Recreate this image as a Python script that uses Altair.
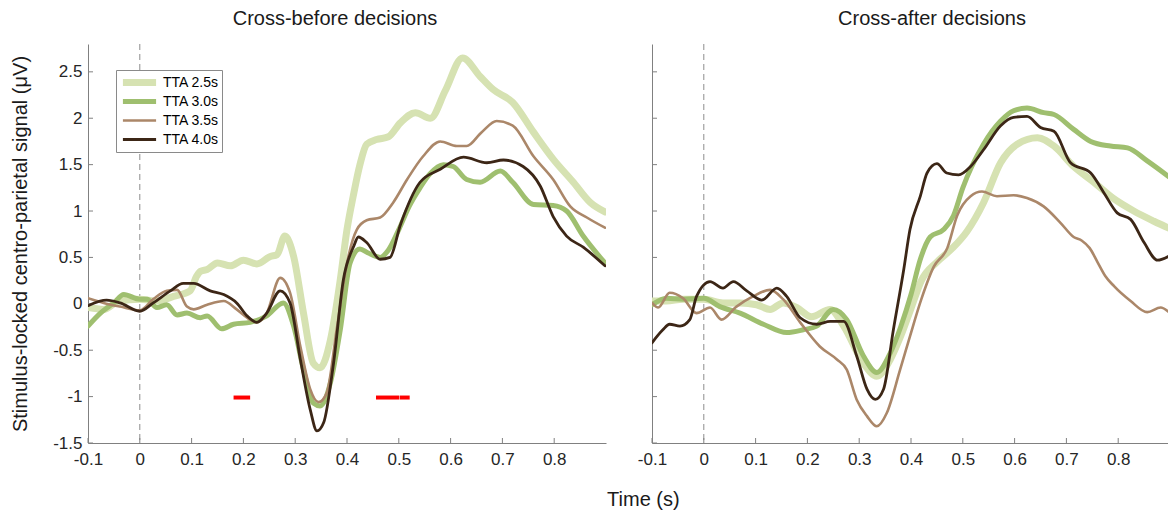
import altair as alt
import pandas as pd

FONT = "Liberation Sans"
SERIES = ["TTA 2.5s", "TTA 3.0s", "TTA 3.5s", "TTA 4.0s"]
COLORS = ["#d6e2b2", "#9fbf6f", "#ab8769", "#3c2616"]
WIDTHS = [7, 5, 2.6, 2.8]

X_TICKS = [-0.1, 0.0, 0.1, 0.2, 0.3, 0.4, 0.5, 0.6, 0.7, 0.8]
Y_TICKS = [-1.5, -1.0, -0.5, 0.0, 0.5, 1.0, 1.5, 2.0, 2.5]

# ---- Cross-before decisions ----
L25_T = [-0.1, -0.07, -0.04, 0.0, 0.033, 0.065, 0.097, 0.11, 0.117, 0.13, 0.15, 0.175, 0.2, 0.226, 0.252, 0.265, 0.28, 0.297, 0.316, 0.335, 0.348, 0.368, 0.387, 0.4, 0.412, 0.425, 0.438, 0.457, 0.48, 0.503, 0.532, 0.561, 0.59, 0.623, 0.657, 0.682, 0.72, 0.76, 0.798, 0.837, 0.87, 0.898]
L25_V = [-0.04, -0.06, 0.03, 0.05, 0.03, 0.08, 0.14, 0.3, 0.35, 0.37, 0.44, 0.41, 0.47, 0.43, 0.51, 0.53, 0.73, 0.51, -0.1, -0.64, -0.69, -0.39, 0.26, 0.8, 1.16, 1.5, 1.72, 1.77, 1.8, 1.95, 2.06, 2.0, 2.3, 2.65, 2.45, 2.31, 2.17, 1.85, 1.56, 1.31, 1.09, 0.99]

L30_T = [-0.1, -0.076, -0.05, -0.031, 0.0, 0.014, 0.033, 0.052, 0.072, 0.091, 0.117, 0.13, 0.158, 0.181, 0.213, 0.245, 0.277, 0.297, 0.316, 0.335, 0.348, 0.368, 0.387, 0.406, 0.425, 0.44, 0.464, 0.48, 0.5, 0.52, 0.541, 0.56, 0.586, 0.605, 0.631, 0.657, 0.696, 0.72, 0.76, 0.798, 0.824, 0.856, 0.898]
L30_V = [-0.24, -0.10, 0.01, 0.10, 0.05, 0.05, -0.04, -0.01, -0.12, -0.10, -0.15, -0.13, -0.27, -0.22, -0.20, -0.13, 0.01, -0.24, -0.71, -1.07, -1.10, -0.85, -0.28, 0.44, 0.59, 0.55, 0.50, 0.58, 0.8, 1.05, 1.25, 1.4, 1.50, 1.48, 1.34, 1.31, 1.43, 1.31, 1.07, 1.06, 1.0, 0.73, 0.44]

L35_T = [-0.1, -0.07, -0.038, 0.0, 0.026, 0.052, 0.072, 0.091, 0.104, 0.13, 0.162, 0.187, 0.213, 0.226, 0.245, 0.271, 0.29, 0.31, 0.329, 0.345, 0.361, 0.38, 0.4, 0.419, 0.438, 0.464, 0.489, 0.516, 0.547, 0.58, 0.612, 0.631, 0.66, 0.689, 0.72, 0.76, 0.798, 0.831, 0.863, 0.898]
L35_V = [0.06, 0.01, -0.03, -0.07, 0.05, 0.14, 0.15, -0.03, -0.06, -0.01, 0.03, -0.06, -0.17, -0.20, -0.10, 0.28, 0.12, -0.46, -0.92, -1.06, -0.96, -0.28, 0.44, 0.80, 0.90, 0.93, 1.09, 1.34, 1.59, 1.75, 1.70, 1.70, 1.85, 1.97, 1.92, 1.59, 1.34, 1.05, 0.93, 0.82]

L40_T = [-0.1, -0.064, -0.038, 0.0, 0.026, 0.059, 0.084, 0.104, 0.136, 0.162, 0.187, 0.207, 0.226, 0.245, 0.271, 0.29, 0.31, 0.329, 0.342, 0.355, 0.374, 0.393, 0.413, 0.422, 0.438, 0.464, 0.483, 0.503, 0.541, 0.58, 0.625, 0.67, 0.702, 0.74, 0.773, 0.798, 0.824, 0.856, 0.898]
L40_V = [-0.02, 0.04, 0.01, -0.08, 0.01, 0.14, 0.22, 0.22, 0.14, 0.10, 0.01, -0.13, -0.20, -0.10, 0.14, 0.01, -0.60, -1.14, -1.37, -1.28, -0.64, 0.26, 0.62, 0.72, 0.66, 0.48, 0.50, 0.85, 1.31, 1.45, 1.58, 1.52, 1.55, 1.48, 1.27, 0.94, 0.73, 0.61, 0.41]

# significance bars (left panel)
SIG_START = [0.181, 0.456, 0.5015]
SIG_END = [0.213, 0.5005, 0.521]
SIG_LEVEL = [-1.01, -1.01, -1.01]

# ---- Cross-after decisions ----
R25_T = [-0.1, -0.072, -0.04, 0.0, 0.037, 0.07, 0.102, 0.128, 0.153, 0.179, 0.208, 0.244, 0.27, 0.308, 0.334, 0.36, 0.38, 0.4, 0.42, 0.45, 0.48, 0.508, 0.54, 0.573, 0.605, 0.644, 0.676, 0.714, 0.753, 0.792, 0.83, 0.869, 0.9]
R25_V = [0.03, 0.03, 0.05, 0.05, 0.01, 0.01, -0.01, -0.06, 0.01, -0.04, -0.14, -0.06, -0.24, -0.64, -0.78, -0.60, -0.35, -0.05, 0.25, 0.45, 0.6, 0.78, 1.09, 1.52, 1.72, 1.79, 1.70, 1.48, 1.31, 1.13, 1.0, 0.89, 0.81]

R30_T = [-0.1, -0.072, -0.04, 0.0, 0.031, 0.07, 0.115, 0.16, 0.192, 0.218, 0.25, 0.276, 0.308, 0.334, 0.36, 0.38, 0.4, 0.418, 0.437, 0.463, 0.482, 0.5, 0.54, 0.573, 0.598, 0.624, 0.656, 0.676, 0.714, 0.747, 0.785, 0.818, 0.856, 0.9]
R30_V = [-0.01, 0.06, 0.05, 0.06, -0.03, -0.10, -0.22, -0.31, -0.28, -0.24, -0.06, -0.17, -0.56, -0.74, -0.53, -0.25, 0.1, 0.48, 0.72, 0.80, 0.95, 1.25, 1.72, 1.97, 2.08, 2.11, 2.06, 2.04, 1.88, 1.75, 1.70, 1.68, 1.54, 1.36]

R35_T = [-0.1, -0.088, -0.066, -0.04, -0.014, 0.012, 0.034, 0.063, 0.095, 0.128, 0.153, 0.186, 0.224, 0.257, 0.276, 0.295, 0.315, 0.334, 0.353, 0.379, 0.398, 0.42, 0.444, 0.47, 0.489, 0.515, 0.537, 0.566, 0.598, 0.624, 0.656, 0.689, 0.714, 0.73, 0.745, 0.76, 0.775, 0.792, 0.824, 0.856, 0.882, 0.9]
R35_V = [0.01, -0.04, 0.12, 0.06, -0.10, -0.04, -0.17, -0.03, 0.08, 0.15, 0.05, -0.20, -0.46, -0.60, -0.71, -1.03, -1.21, -1.32, -1.18, -0.71, -0.35, 0.05, 0.4, 0.6, 0.95, 1.16, 1.21, 1.16, 1.17, 1.14, 1.05, 0.87, 0.72, 0.68, 0.6, 0.45, 0.3, 0.19, 0.03, -0.09, -0.04, -0.1]

R40_T = [-0.1, -0.079, -0.066, -0.046, -0.027, -0.014, 0.012, 0.037, 0.057, 0.083, 0.112, 0.141, 0.16, 0.186, 0.218, 0.244, 0.27, 0.295, 0.315, 0.331, 0.347, 0.366, 0.386, 0.398, 0.418, 0.431, 0.45, 0.469, 0.492, 0.515, 0.54, 0.573, 0.598, 0.624, 0.65, 0.676, 0.708, 0.747, 0.772, 0.798, 0.824, 0.85, 0.876, 0.9]
R40_V = [-0.42, -0.28, -0.22, -0.24, -0.17, 0.08, 0.24, 0.17, 0.24, 0.14, 0.04, 0.17, 0.08, -0.15, -0.22, -0.19, -0.19, -0.56, -0.92, -1.03, -0.92, -0.28, 0.37, 0.8, 1.16, 1.41, 1.51, 1.41, 1.39, 1.48, 1.66, 1.92, 2.01, 2.02, 1.90, 1.86, 1.52, 1.41, 1.20, 0.98, 0.91, 0.66, 0.47, 0.52]

W_L, W_R, H = 518, 516, 399
X_MAX_L = 0.9
X_MAX_R = -0.1 + W_R / 518.0
Y_DOMAIN = [-1.5, 2.8]


def frame(series_lists):
    rows = []
    for name, (ts, vs) in zip(SERIES, series_lists):
        for t, v in zip(ts, vs, strict=True):
            rows.append({"series": name, "t": t, "v": v})
    return pd.DataFrame(rows)


left_df = frame([(L25_T, L25_V), (L30_T, L30_V), (L35_T, L35_V), (L40_T, L40_V)])
right_df = frame([(R25_T, R25_V), (R30_T, R30_V), (R35_T, R35_V), (R40_T, R40_V)])
sig_df = pd.DataFrame({"t0": SIG_START, "t1": SIG_END, "v": SIG_LEVEL})

X_LABEL = "datum.value < 0 ? '-' + format(-datum.value, '.1~f') : format(datum.value, '.1~f')"
Y_LABEL = "datum.value < 0 ? '-' + format(-datum.value, '~g') : format(datum.value, '~g')"

AX_COLOR = "#808080"
LBL_COLOR = "#262626"


def panel(df, title, dx, xmax, width, first):
    xs = alt.Scale(domain=[-0.1, xmax], nice=False, zero=False)
    ys = alt.Scale(domain=Y_DOMAIN, nice=False, zero=False)
    xa = alt.Axis(values=X_TICKS, labelExpr=X_LABEL, tickSize=0, grid=False,
                  domainColor=AX_COLOR, labelFont=FONT, labelFontSize=17,
                  labelColor=LBL_COLOR, labelPadding=8, title=None, labelFlush=False)
    if first:
        ya = alt.Axis(values=Y_TICKS, labelExpr=Y_LABEL, tickSize=0, grid=False,
                      domainColor=AX_COLOR, labelFont=FONT, labelFontSize=17,
                      labelColor=LBL_COLOR, labelPadding=6,
                      title="Stimulus-locked centro-parietal signal (μV)",
                      titleFont=FONT, titleFontSize=20, titleFontWeight="normal",
                      titleColor="#1a1a1a", titlePadding=22)
    else:
        ya = alt.Axis(values=Y_TICKS, labels=False, tickSize=0, grid=False,
                      domainColor=AX_COLOR, title=None)
    X = alt.X("t:Q", scale=xs, axis=xa)
    Y = alt.Y("v:Q", scale=ys, axis=ya)

    if first:
        leg = alt.Legend(title=None, orient="none", legendX=28, legendY=26,
                         symbolType="stroke", symbolSize=1100, clipHeight=19,
                         rowPadding=0, labelFont=FONT, labelFontSize=14,
                         labelColor="#000000", labelOffset=3,
                         strokeColor="#8a8a8a", fillColor="white", padding=3)
    else:
        leg = None

    base_ticks_x = pd.DataFrame({"t": X_TICKS})
    base_ticks_y = pd.DataFrame({"v": Y_TICKS})

    zero = alt.Chart(pd.DataFrame({"t": [0.0]})).mark_rule(
        color="#8c8c8c", strokeDash=[6, 4], strokeWidth=1
    ).encode(x=X)

    xt = alt.Chart(base_ticks_x).mark_rule(color=AX_COLOR, strokeWidth=1).encode(
        x=X, y=alt.value(H), y2=alt.value(H - 5))
    yt = alt.Chart(base_ticks_y).mark_rule(color=AX_COLOR, strokeWidth=1).encode(
        y=Y, x=alt.value(0), x2=alt.value(5))

    lines = alt.Chart(df).mark_line(
        interpolate="monotone", clip=True, strokeCap="round", strokeJoin="round"
    ).encode(
        x=X, y=Y,
        color=alt.Color("series:N", scale=alt.Scale(domain=SERIES, range=COLORS), legend=leg),
        strokeWidth=alt.StrokeWidth("series:N",
                                    scale=alt.Scale(type="ordinal", domain=SERIES, range=WIDTHS),
                                    legend=leg),
    )

    layers = [zero, xt, yt, lines]
    if first:
        sig = alt.Chart(sig_df).mark_rule(color="#ff0000", strokeWidth=4).encode(
            x=alt.X("t0:Q", scale=xs, axis=xa), x2="t1:Q", y=alt.Y("v:Q", scale=ys, axis=ya))
        layers.append(sig)

    return alt.layer(*layers).properties(
        width=width, height=H,
        title=alt.TitleParams(title, font=FONT, fontSize=20, fontWeight="normal",
                              color="#1a1a1a", anchor="middle", dx=dx, offset=15),
    )


left = panel(left_df, "Cross-before decisions", -12, X_MAX_L, W_L, True)
right = panel(right_df, "Cross-after decisions", 22, X_MAX_R, W_R, False)

chart = alt.hconcat(left, right, spacing=31).resolve_scale(
    color="independent", strokeWidth="independent"
).properties(
    padding={"left": 10, "top": 8, "right": 0, "bottom": 0},
    title=alt.TitleParams("Time (s)", orient="bottom", anchor="middle", font=FONT,
                          fontSize=20, fontWeight="normal", color="#1a1a1a", dx=54, offset=23),
).configure_view(stroke=None)

chart.save("out.html", embed_options={"renderer": "svg", "actions": False})
